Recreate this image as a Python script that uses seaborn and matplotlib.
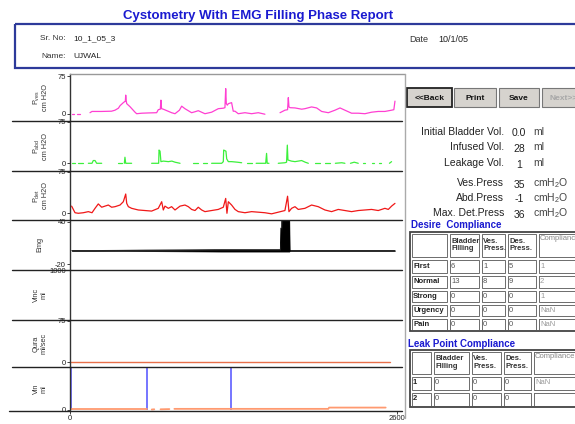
import numpy as np
import pandas as pd
import seaborn as sns
import matplotlib.pyplot as plt
from matplotlib.patches import Rectangle
from matplotlib.transforms import Bbox, TransformedBbox

nan = np.nan

# ---- traces (time in s) ----
pves_t = [13, 30, nan, 55, 80, nan, 159, 175, 250, 330,
          358, 385, 398, 424, 440, 443, 447, 451, 477, 517,
          530, 570, 620, 689, 702, 718, 723, 728, 742, 808,
          835, 870, 888, 914, 967, 995, 1020, 1073, 1126, 1179,
          1219, 1232, 1238, 1243, 1251, 1259, 1285, 1298, 1312, 1338,
          1391, 1444, 1497, 1550, nan, 1670, 1709, 1730, 1736, 1741,
          1749, 1789, 1842, 1868, 1921, 1961, 2001, 2054, 2107, 2147,
          2186, 2239, 2292, 2345, 2398, 2451, 2504, 2557, 2575, 2584]
pves_v = [0, 0, nan, 0, 0, nan, 2, 4.5, 4.5, 5,
          7, 11, 16, 22, 25, 37, 26, 20, 14, 3,
          0, 1, 1.5, 2, 8, 9, 27, 10, 9, 2,
          0, 7, 15, 10, 2, 4, 6, 0, 3, 10,
          11, 12, 50, 20, 17, 20, 22, 5, 5, 0,
          2, 0, 2, -1, nan, 2, 7, 8, 32, 13.5,
          12, 11.5, 9, 10, 13.5, 11.5, 4.5, 2, 7, 11.5,
          7, 1, 1, 0, 3, 4.5, 4.5, 7, 8, 25]

pabd_t = [13, 40, nan, 66, 106, nan, 146, 175, 185, 199,
          212, 225, 252, nan, 384, 411, nan, 432, 437, 443,
          464, 490, nan, 649, 689, 705, 708, 716, 723, 742,
          782, 810, 835, 875, nan, 981, 1020, nan, 1060, 1086,
          nan, 1126, 1206, 1219, 1222, 1240, 1246, 1259, 1285, 1330,
          1365, nan, 1404, 1444, nan, 1480, 1524, 1556, 1563, 1568,
          1582, nan, 1656, 1709, 1722, 1728, 1733, 1760, 1789, 1842,
          1870, 1895, nan, 1950, 1990, nan, 2030, 2070, nan, 2110,
          2160, 2186, nan, 2230, 2260, 2292, nan, 2330, 2345, nan,
          2398, 2420, nan, 2460, 2475, nan, 2540, 2557]
pabd_v = [0, 0, nan, 0, 0, nan, 0, 0, 5, 5,
          0, 0, 0, nan, 0, 0, nan, 0, 11, 0,
          0, 0, nan, 0, 0, 0, 24, 22, 3, 4,
          3, 4, 2, 0, nan, 0, 0, nan, 0, 0,
          nan, 0, 0, 3, 24, 22, 8, 3, 3, 2,
          1, nan, 0, 0, nan, 0, 0, 0, 18, 0,
          0, nan, 0, 1, 2, 33, 6, 4, 3, 5,
          2, 0, nan, 0, 0, nan, 0, 0, nan, 0,
          1, 0, nan, 0, 2, 0, nan, 0, 0, nan,
          0, 0, nan, 0, 0, nan, 0, 3]

pdet_t = [13, 40, 66, 106, 146, 175, 199, 225, 252, 278,
          305, 331, 358, 398, 424, 443, 451, 464, 490, 543,
          596, 649, 702, 729, 742, 755, 782, 808, 835, 875,
          914, 941, 967, 994, 1020, 1047, 1073, 1126, 1179, 1219,
          1238, 1248, 1259, 1285, 1312, 1338, 1391, 1444, 1497, 1550,
          1603, 1656, 1709, 1730, 1741, 1762, 1789, 1815, 1868, 1921,
          1974, 2027, 2080, 2133, 2186, 2239, 2292, 2345, 2398, 2451,
          2504, 2531, 2557, 2584]
pdet_v = [13, 1, 0, 1, 3, 1, 9, 17, 11, 13,
          15, 11, 12, 15, 21, 35, 18, 12, 9, 6,
          5, 4, 9, 21, 6, 13, 9, 12, 6, 13,
          15, 12, 7, 5, 11, 6, 3, 5, 7, 11,
          27, 0, 21, 15, 7, 3, 1, 3, 2, 1,
          -1, 2, 5, 31, 3, 9, 12, 7, 9, 15,
          12, 6, 3, 7, 5, 3, 5, 6, 7, 5,
          9, 7, 13, 18]

emg_t = [13, 200, 400, 600, 800, 1000, 1200, 1400, 1600, 1672,
         1676, 1680, 1683, 1744, 1747, 1800, 2000, 2200, 2400, 2584]
emg_hi = [-0.7, -0.7, -0.5, -0.2, 0, 0.2, 0.4, 0.4, 0.4, 0.4,
          31, 0.4, 42, 42, -0.7, -0.7, -0.7, -0.7, -0.7, -0.7]
emg_lo = [-1.3, -1.3, -1.5, -1.8, -2, -2.2, -2.4, -2.4, -2.4, -2.4,
          -2.4, -2.4, -2.4, -2.4, -1.3, -1.3, -1.3, -1.3, -1.3, -1.3]

qura_t = [0, 2544]
qura_v = [0, 0]

vin_t = [0, 610, nan, 650, 670, nan, 720, 790, nan, 830, 2054, 2060, 2510]
vin_v = [1.5, 1.5, nan, 0.5, 1, nan, 1, 1.5, nan, 2, 2, 5, 5]
vin_marks = [8, 610, 1277]

# ---- report values ----
info_labels = ['Initial Bladder Vol.', 'Infused Vol.', 'Leakage Vol.',
               'Ves.Press', 'Abd.Press', 'Max. Det.Press']
info_values = ['0.0', '28', '1', '35', '-1', '36']
info_units = ['ml', 'ml', 'ml', 'cmH$_2$O', 'cmH$_2$O', 'cmH$_2$O']

desire_rows = ['First', 'Normal', 'Strong', 'Urgency', 'Pain']
desire_bladder = [6, 13, 0, 0, 0]
desire_ves = [1, 8, 0, 0, 0]
desire_des = [5, 9, 0, 0, 0]
desire_comp = ['1', '2', '1', 'NaN', 'NaN']

leak_rows = ['1', '2']
leak_bladder = [0, 0]
leak_ves = [0, 0]
leak_des = [0, 0]
leak_comp = ['NaN', '']

table_cols = ['Bladder\nFilling', 'Ves.\nPress.', 'Des.\nPress.']

sns.set_style('white')
plt.rcParams['font.family'] = ['Liberation Sans', 'DejaVu Sans']
plt.rcParams['mathtext.fontset'] = 'custom'
plt.rcParams['mathtext.rm'] = 'Liberation Sans'
plt.rcParams['mathtext.it'] = 'Liberation Sans:italic'
plt.rcParams['mathtext.bf'] = 'Liberation Sans:bold'

W, H = 575, 424
fig = plt.figure(figsize=(5.75, 4.24), dpi=100)


def box(x0, y0, x1, y1):
    return [x0 / W, 1 - y1 / H, (x1 - x0) / W, (y1 - y0) / H]


def trace(ax, t, v, color, lw=0.9):
    df = pd.DataFrame({'t': t, 'v': v})
    df['seg'] = df['v'].isna().cumsum()
    df = df.dropna()
    sns.lineplot(data=df, x='t', y='v', units='seg', estimator=None, sort=False,
                 color=color, lw=lw, ax=ax, legend=False)


# label, top px, bottom px, ylim, yticks
panels = [
    ('P$_\\mathrm{ves}$\ncm H2O', 74, 121, (-14.5, 79), [0, 75]),
    ('P$_\\mathrm{abd}$\ncm H2O', 121, 171, (-14, 76.8), [0, 75]),
    ('P$_\\mathrm{det}$\ncm H2O', 171, 220, (-12.2, 76.8), [0, 75]),
    ('Emg', 220, 270, (-28.5, 42.4), [-20, 40]),
    ('Vinc\nml', 270, 320, (-50, 1010), [1000]),
    ('Qura\nml/sec', 320, 367, (-8.5, 76.8), [0, 75]),
    ('Vin\nml', 367, 411, (-3, 100), [0]),
]

axes = []
for label, top, bot, ylim, ticks in panels:
    ax = fig.add_axes(box(70, top, 400, bot))
    ax.set_xlim(0, 2624)
    ax.set_ylim(*ylim)
    axes.append(ax)

trace(axes[0], pves_t, pves_v, '#ff3fd2')
trace(axes[1], pabd_t, pabd_v, '#3cf03c')
trace(axes[2], pdet_t, pdet_v, '#f01818')
axes[3].fill_between(emg_t, emg_lo, emg_hi, color='black', lw=0.4)
trace(axes[3], emg_t, emg_hi, 'black', lw=0.5)
trace(axes[5], qura_t, qura_v, '#e8704a', lw=1.0)
axes[6].vlines(vin_marks, 0, 100, color='#6a6aff', lw=1.3)
trace(axes[6], vin_t, vin_v, '#ff9a70', lw=1.3)

for ax, (label, top, bot, ylim, ticks) in zip(axes, panels):
    ax.set_yticks(ticks)
    ax.set_yticklabels([str(k) for k in ticks])
    ax.tick_params(axis='y', left=True, length=2, width=0.6, pad=1,
                   labelsize=5.5, colors='#222')
    ax.set_xlabel('')
    ax.set_ylabel(label, fontsize=5.3, color='#333', va='center', ha='center',
                  linespacing=1.1)
    ax.yaxis.set_label_coords(-0.09, 0.5)
    for s in ['top', 'right', 'bottom']:
        ax.spines[s].set_visible(False)
    ax.spines['left'].set_color('#333')
    ax.spines['left'].set_linewidth(1.0)
    ax.set_xticks([])

axes[-1].set_xticks([0, 2600])
axes[-1].set_xticklabels(['0', '2600'])
axes[-1].tick_params(axis='x', bottom=True, length=2, width=0.6, pad=1,
                     labelsize=5.5, colors='#222')

# ---- overlay in pixel coordinates ----
ov = fig.add_axes([0, 0, 1, 1])
ov.set_xlim(0, W)
ov.set_ylim(H, 0)
ov.axis('off')

ov.text(258, 16, 'Cystometry With EMG Filling Phase Report', color='#1a1ad0',
        fontweight='bold', fontsize=9.5, ha='center', va='center')
ov.add_patch(Rectangle((15, 23.5), 575, 44.5, fc='none', ec='#2d3a9a', lw=1.6))
ov.text(66, 39, 'Sr. No:', fontsize=6, ha='right', va='center', color='#333')
ov.text(73, 39, '10_1_05_3', fontsize=6, ha='left', va='center', color='#222')
ov.text(66, 56, 'Name:', fontsize=6, ha='right', va='center', color='#333')
ov.text(73, 56, 'UJWAL', fontsize=6, ha='left', va='center', color='#222')
ov.text(409, 39, 'Date', fontsize=6.5, ha='left', va='center', color='#333')
ov.text(438, 39, '10/1/05', fontsize=6.5, ha='left', va='center', color='#222')

# chart frame and separators
ov.plot([70, 405], [74, 74], color='#999', lw=1)
ov.plot([405, 405], [74, 418], color='#aaa', lw=1)
for y in [121, 171, 220, 270, 320, 367]:
    ov.plot([12, 402], [y, y], color='#222', lw=1)
ov.plot([9, 402], [411, 411], color='#222', lw=1)

# buttons
buttons = [('<<Back', 407, 452, '#111'), ('Print', 454, 496, '#111'),
           ('Save', 499, 539, '#111'), ('Next>>', 542, 585, '#a8a8a8')]
for i, (txt, x0, x1, col) in enumerate(buttons):
    ov.add_patch(Rectangle((x0, 88), x1 - x0, 19, fc='#d6d3ce',
                           ec='#222' if i == 0 else '#777', lw=1.3 if i == 0 else 0.8))
    ov.text((x0 + x1) / 2, 98, txt, fontsize=6, fontweight='bold',
            ha='center', va='center', color=col)

# info lines
clip = TransformedBbox(Bbox([[409, 0], [W, H]]), ov.transData)
for lab, val, unit, y in zip(info_labels, info_values, info_units,
                             [132, 147, 163, 183, 198, 213]):
    t = ov.text(504, y, lab, fontsize=7.5, ha='right', va='center', color='#222')
    t.set_clip_box(clip)
    t.set_clip_on(True)
    ov.text(519, y + 1.5, val, fontsize=7.5, ha='center', va='center', color='#222')
    ov.text(533, y, unit, fontsize=7.5, ha='left', va='center', color='#444')


def draw_table(xs, ys, rows, cols):
    ov.add_patch(Rectangle((xs[0], ys[0]), xs[-1] - xs[0], ys[-1] - ys[0],
                           fc='white', ec='#444', lw=1.3))
    for i in range(len(ys) - 1):
        for j in range(len(xs) - 1):
            ov.add_patch(Rectangle((xs[j] + 1.5, ys[i] + 1.5), xs[j + 1] - xs[j] - 3,
                                   ys[i + 1] - ys[i] - 3, fc='none', ec='#555', lw=0.6))
    for j, c in enumerate(table_cols):
        ov.text(xs[j + 1] + 3, (ys[0] + ys[1]) / 2, c, fontsize=5.5, fontweight='bold',
                ha='left', va='center', color='#333', linespacing=1.0)
    ov.text(xs[4] + 3, ys[0] + 7, 'Compliance', fontsize=5.5, ha='left',
            va='center', color='#888')
    for i, r in enumerate(rows):
        yc = (ys[i + 1] + ys[i + 2]) / 2
        ov.text(xs[0] + 3, yc, r, fontsize=5.5, fontweight='bold', ha='left',
                va='center', color='#222')
        for j, col in enumerate(cols):
            ov.text(xs[j + 1] + 3, yc, str(col[i]), fontsize=5.5, ha='left',
                    va='center', color='#999' if j == 3 else '#555')


ov.text(411, 225, 'Desire  Compliance', fontsize=7, fontweight='bold',
        color='#1a1ad0', ha='left', va='center')
draw_table([410, 448, 480, 506, 537, 600], [232, 258, 274, 289, 303, 317, 331],
           desire_rows, [desire_bladder, desire_ves, desire_des, desire_comp])

ov.text(408, 344, 'Leak Point Compliance', fontsize=7, fontweight='bold',
        color='#1a1ad0', ha='left', va='center')
draw_table([410, 432, 470, 502, 532, 600], [350, 375, 391, 407],
           leak_rows, [leak_bladder, leak_ves, leak_des, leak_comp])

fig.savefig('out.png', dpi=100)
